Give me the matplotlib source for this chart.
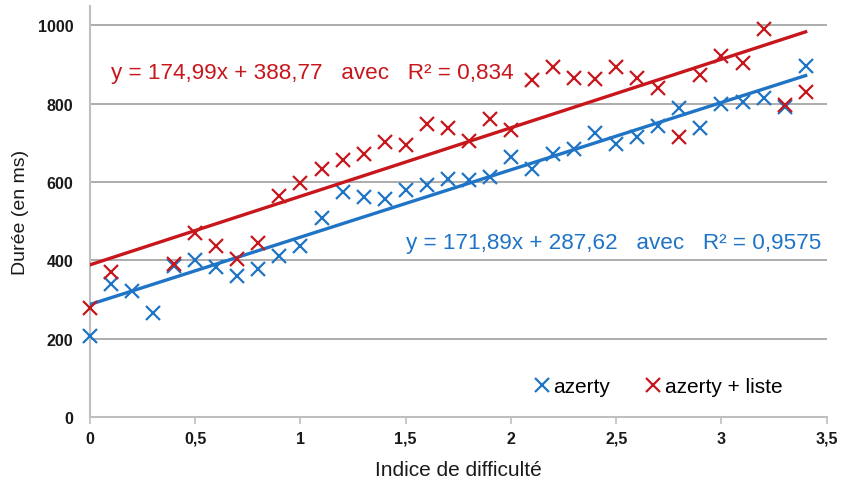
import numpy as np
import matplotlib
matplotlib.use('Agg')
import matplotlib.pyplot as plt

plt.rcParams['font.family'] = ['Liberation Sans', 'DejaVu Sans']

# indices de difficulté
x_vals = [round(0.1 * i, 1) for i in range(35)]

azerty = [207, 339, 322, 265, 387, 402, 383, 361, 378, 412,
          438, 508, 575, 562, 558, 581, 593, 609, 606, 613,
          665, 634, 673, 684, 726, 696, 715, 743, 788, 737,
          800, 805, 815, 792, 897]

azerty_liste = [278, 371, np.nan, np.nan, 391, 469, 438, 404, 444, 565,
                597, 634, 656, 673, 703, 694, 749, 739, 704, 760,
                732, 860, 894, 866, 863, 894, 866, 841, 715, 873,
                922, 905, 990, 798, 830]

# droites de tendance (coefficients affichés)
coef_azerty = (171.89, 287.62)
coef_liste = (174.99, 388.77)

BLUE = '#1f74c6'
RED = '#c8161d'

fig = plt.figure(figsize=(8.41, 4.89), dpi=100)
ax = fig.add_axes([0.107, 0.145, 0.876, 0.841])

x = np.array(x_vals)
ax.plot(x, azerty, linestyle='none', marker='x', markersize=10.5,
        markeredgewidth=1.6, color=BLUE, label='azerty', zorder=3, clip_on=False)
ax.plot(x, azerty_liste, linestyle='none', marker='x', markersize=10.5,
        markeredgewidth=1.6, color=RED, label='azerty + liste', zorder=4, clip_on=False)

xt = np.array([0, 3.4])
ax.plot(xt, coef_azerty[0] * xt + coef_azerty[1], color=BLUE, lw=2.4, zorder=3)
ax.plot(xt, coef_liste[0] * xt + coef_liste[1], color=RED, lw=2.4, zorder=4)

ax.text(0.1, 880, 'y = 174,99x + 388,77   avec   R² = 0,834', color=RED,
        fontsize=16.2, va='center', ha='left')
ax.text(1.5, 445, 'y = 171,89x + 287,62   avec   R² = 0,9575', color=BLUE,
        fontsize=16.2, va='center', ha='left')

ax.set_xlim(0, 3.5)
ax.set_ylim(0, 1050)
ax.set_xticks(np.arange(0, 3.51, 0.5))
ax.set_xticklabels(['0', '0,5', '1', '1,5', '2', '2,5', '3', '3,5'])
ax.set_yticks(range(0, 1001, 200))
ax.tick_params(axis='both', labelsize=11.5, colors='#bfbfbf', labelcolor='#1a1a1a')
for lab in ax.get_xticklabels() + ax.get_yticklabels():
    lab.set_fontweight('bold')
ax.tick_params(axis='y', length=0, pad=12)
ax.tick_params(axis='x', length=5, width=1.2, direction='out', pad=5)

ax.grid(axis='y', color='#a6a6a6', lw=1.3)
ax.set_axisbelow(True)
for s in ['top', 'right']:
    ax.spines[s].set_visible(False)
for s in ['left', 'bottom']:
    ax.spines[s].set_color('#bfbfbf')
    ax.spines[s].set_linewidth(1.5)

ax.set_xlabel('Indice de difficulté', fontsize=15, color='#1a1a1a', labelpad=10)
ax.set_ylabel('Durée (en ms)', fontsize=14, color='#1a1a1a', labelpad=6)

leg = ax.legend(loc='lower right', bbox_to_anchor=(0.965, 0.005), ncol=2,
                frameon=False, fontsize=15, handlelength=0.5,
                handletextpad=0.3, columnspacing=1.8)

fig.savefig('out.png', dpi=100)
